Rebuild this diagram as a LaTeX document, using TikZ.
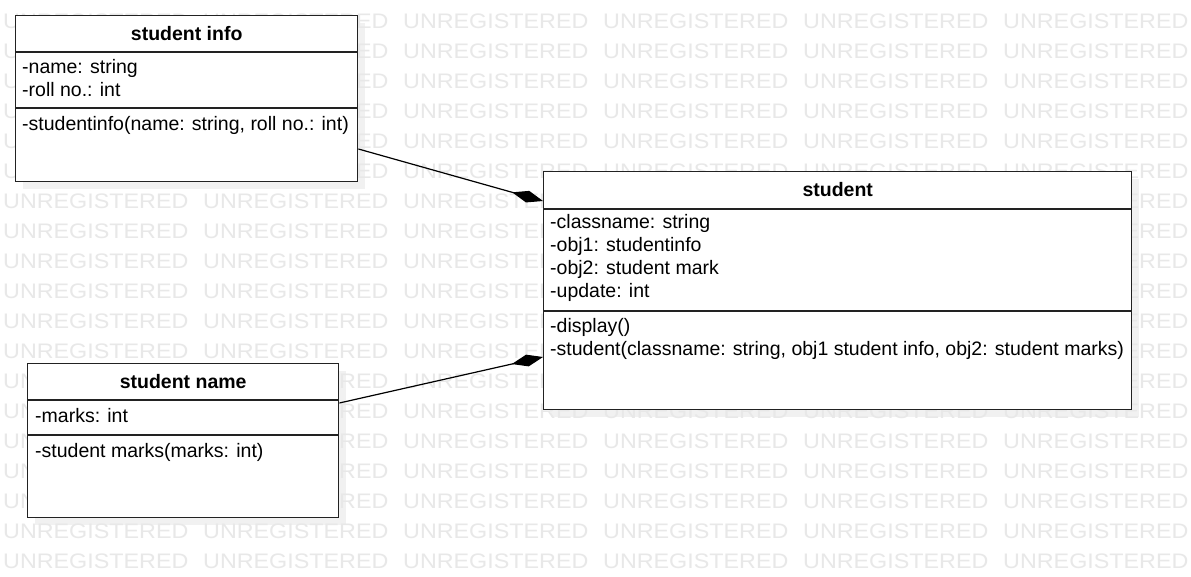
\documentclass[tikz,border=0pt]{standalone}
\usepackage{fontspec}
\setmainfont{Liberation Sans}
\usetikzlibrary{arrows.meta,calc}
\definecolor{wm}{RGB}{232,232,232}
\definecolor{shadowc}{RGB}{241,241,241}
\definecolor{edge}{RGB}{34,34,34}
\begin{document}
\begin{tikzpicture}[x=1pt,y=-1pt,
  umlbox/.style={draw=edge, line width=1.4pt, fill=white, inner sep=0pt, anchor=north west},
  sepline/.style={draw=edge, line width=1.3pt},
  ttl/.style={font=\fontsize{19.5}{23}\selectfont\bfseries, anchor=base, inner sep=0pt},
  txt/.style={font=\fontsize{19.5}{23}\selectfont, anchor=base west, inner sep=0pt},
  wmtext/.style={font=\fontsize{21}{21}\selectfont, text=wm, anchor=base west, inner sep=0pt},
  conn/.style={draw=black, line width=1.2pt, -{Diamond[length=32pt,width=12pt]}}
]
\useasboundingbox (0,0) rectangle (1191,577);
\fill[white] (0,0) rectangle (1191,577);
% shadows
\fill[shadowc] (23,23) rectangle (365,189);
\fill[shadowc] (551,179) rectangle (1139,417);
\fill[shadowc] (35,371) rectangle (346,525);
% watermark
\foreach \k in {0,...,18}{
  \foreach \j in {0,...,5}{
    \node[wmtext] (wm-\j-\k) at ({3+200*\j},{28.5+30*\k}) {\scalebox{1.11}[1]{UNREGISTERED}};
  }
}
% student info
\node[umlbox, minimum width=342pt, minimum height=166pt] (info) at (15,15) {};
\draw[sepline] ($(info.north west)+(0,37)$) -- ($(info.north east)+(0,37)$);
\draw[sepline] ($(info.north west)+(0,93)$) -- ($(info.north east)+(0,93)$);
\node[ttl] (info-t) at ($(info.north)+(0,25.5)$) {student info};
\node[txt] (info-a1) at (22,74) {-name: string};
\node[txt] (info-a2) at (22,96.5) {-roll no.: int};
\node[txt] (info-m1) at (22,131) {-studentinfo(name: string, roll no.: int)};
% student
\node[umlbox, minimum width=588pt, minimum height=238pt] (stu) at (543,171) {};
\draw[sepline] ($(stu.north west)+(0,38)$) -- ($(stu.north east)+(0,38)$);
\draw[sepline] ($(stu.north west)+(0,140)$) -- ($(stu.north east)+(0,140)$);
\node[ttl] (stu-t) at ($(stu.north)+(0,25.5)$) {student};
\node[txt] (stu-a1) at (550,229) {-classname: string};
\node[txt] (stu-a2) at (550,252) {-obj1: studentinfo};
\node[txt] (stu-a3) at (550,275) {-obj2: student mark};
\node[txt] (stu-a4) at (550,298) {-update: int};
\node[txt] (stu-m1) at (550,332) {-display()};
\node[txt] (stu-m2) at (550,355) {-student(classname: string, obj1 student info, obj2: student marks)};
% student name
\node[umlbox, minimum width=311pt, minimum height=154pt] (name) at (27,363) {};
\draw[sepline] ($(name.north west)+(0,37)$) -- ($(name.north east)+(0,37)$);
\draw[sepline] ($(name.north west)+(0,72)$) -- ($(name.north east)+(0,72)$);
\node[ttl] (name-t) at ($(name.north)+(0,25.5)$) {student name};
\node[txt] (name-a1) at (35,422) {-marks: int};
\node[txt] (name-m1) at (35,457) {-student marks(marks: int)};
% connectors
\coordinate (c1s) at ($(info.north east)+(0,134)$);
\coordinate (c1e) at ($(stu.north west)+(0,30)$);
\coordinate (c2s) at ($(name.north east)+(0,40)$);
\coordinate (c2e) at ($(stu.north west)+(0,186)$);
\draw[conn] (c1s) -- (c1e);
\draw[conn] (c2s) -- (c2e);
\end{tikzpicture}
\end{document}
